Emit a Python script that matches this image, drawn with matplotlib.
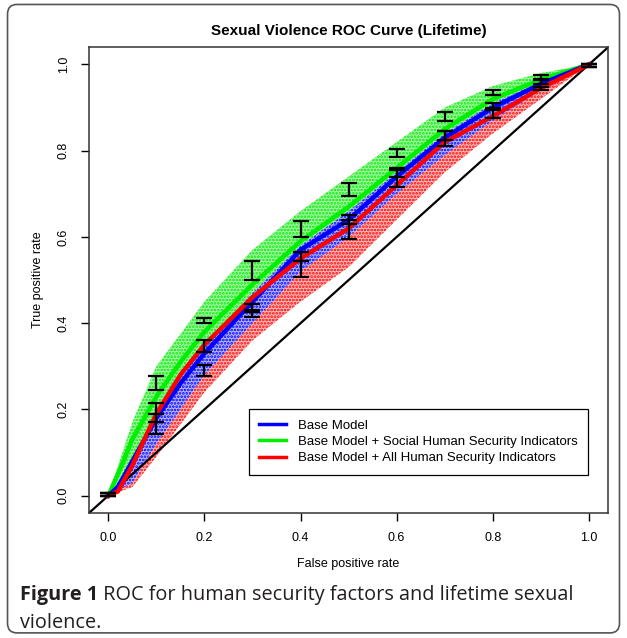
import numpy as np
import matplotlib
matplotlib.use('Agg')
from matplotlib import pyplot as plt
from matplotlib.patches import FancyBboxPatch

plt.rcParams.update({'font.family': ['Liberation Sans', 'DejaVu Sans'], 'font.size': 9,
                     'hatch.linewidth': 1.3})

# averaged ROC curves
fpr = [0.0, 0.02, 0.05, 0.1, 0.15, 0.2, 0.3, 0.4, 0.5, 0.6, 0.7, 0.8, 0.9, 1.0]
tpr_base = [0.0, 0.02, 0.08, 0.18, 0.26, 0.33, 0.45, 0.57, 0.64, 0.74, 0.83, 0.90, 0.955, 1.0]
tpr_social = [0.0, 0.05, 0.13, 0.23, 0.31, 0.38, 0.49, 0.59, 0.67, 0.76, 0.85, 0.92, 0.965, 1.0]
tpr_all = [0.0, 0.01, 0.07, 0.19, 0.28, 0.35, 0.46, 0.55, 0.62, 0.72, 0.82, 0.88, 0.945, 1.0]

# spread of the bootstrap curves (upper / lower edge of the visible dot clouds)
band_x = [0.0, 0.05, 0.1, 0.2, 0.3, 0.4, 0.5, 0.6, 0.7, 0.8, 0.9, 1.0]
social_hi = [0.0, 0.17, 0.30, 0.45, 0.57, 0.66, 0.74, 0.82, 0.90, 0.95, 0.98, 1.0]
social_lo = [0.0, 0.08, 0.19, 0.35, 0.47, 0.58, 0.66, 0.75, 0.84, 0.91, 0.96, 1.0]
base_hi = [0.0, 0.13, 0.24, 0.40, 0.52, 0.62, 0.70, 0.78, 0.86, 0.92, 0.965, 1.0]
base_lo = [0.0, 0.03, 0.12, 0.28, 0.40, 0.52, 0.60, 0.70, 0.79, 0.87, 0.94, 1.0]
all_hi = [0.0, 0.12, 0.23, 0.39, 0.50, 0.60, 0.68, 0.77, 0.85, 0.92, 0.965, 1.0]
all_lo = [0.0, 0.02, 0.09, 0.24, 0.36, 0.45, 0.53, 0.64, 0.75, 0.84, 0.92, 1.0]

# error bars (low, high) at fixed false positive rates
bar_x = [0.0, 0.1, 0.2, 0.3, 0.4, 0.5, 0.6, 0.7, 0.8, 0.9, 1.0]
social_bar = [(0.0, 0.006), (0.246, 0.278), (0.401, 0.413), (0.50, 0.545), (0.60, 0.636), (0.696, 0.724),
              (0.785, 0.805), (0.87, 0.89), (0.93, 0.94), (0.967, 0.975), (0.995, 1.0)]
base_bar = [(0.0, 0.006), (0.144, 0.216), (0.334, 0.362), (0.425, 0.445), (0.545, 0.565), (0.63, 0.65),
            (0.74, 0.76), (0.825, 0.845), (0.895, 0.91), (0.955, 0.965), (0.995, 1.0)]
all_bar = [(0.0, 0.006), (0.17, 0.19), (0.278, 0.302), (0.415, 0.43), (0.506, 0.545), (0.596, 0.64),
           (0.715, 0.755), (0.81, 0.845), (0.877, 0.90), (0.94, 0.948), (0.995, 1.0)]

labels = ['Base Model', 'Base Model + Social Human Security Indicators',
          'Base Model + All Human Security Indicators']
colors = ['#0000ff', '#00ee00', '#ff0000']
tints = ['#b4b4ff', '#aaf5aa', '#ffbcbc']

fig = plt.figure(figsize=(6.27, 6.38), dpi=100)
fig.patches.append(FancyBboxPatch((0.012, 0.008), 0.976, 0.985, boxstyle='round,pad=0,rounding_size=0.015',
                                  transform=fig.transFigure, facecolor='none', edgecolor='#555555',
                                  linewidth=1.2))
ax = fig.add_axes([0.142, 0.196, 0.828, 0.730])

# dot clouds: all first, then base, social on top
for hi, lo, c, t in [(all_hi, all_lo, colors[2], tints[2]), (base_hi, base_lo, colors[0], tints[0]),
                     (social_hi, social_lo, colors[1], tints[1])]:
    ax.fill_between(band_x, lo, hi, facecolor=t, linewidth=0)
    ax.fill_between(band_x, lo, hi, facecolor='none', edgecolor=c, hatch='.....', linewidth=0)

ax.axline((0, 0), (1, 1), color='black', lw=1.6)

ax.plot(fpr, tpr_social, color=colors[1], lw=3.2)
ax.plot(fpr, tpr_base, color=colors[0], lw=3.2)
ax.plot(fpr, tpr_all, color=colors[2], lw=3.2)

for bars in [base_bar, social_bar, all_bar]:
    lo = np.array([b[0] for b in bars])
    hi = np.array([b[1] for b in bars])
    ax.errorbar(bar_x, (lo + hi) / 2, yerr=(hi - lo) / 2, fmt='none', ecolor='black',
                elinewidth=1.6, capsize=6, capthick=1.6)

# legend
for lab, c in zip(labels, colors):
    ax.plot([], [], color=c, lw=2.5, label=lab)
leg = ax.legend(loc='lower right', bbox_to_anchor=(0.961, 0.082), borderaxespad=0, fancybox=False,
                edgecolor='black', framealpha=1, fontsize=9.5, handlelength=2.0, labelspacing=0.3,
                borderpad=0.8, handletextpad=0.9)
leg.get_frame().set_linewidth(0.9)

ax.set_xlim(-0.04, 1.04)
ax.set_ylim(-0.04, 1.04)
ticks = [0.0, 0.2, 0.4, 0.6, 0.8, 1.0]
ax.set_xticks(ticks)
ax.set_yticks(ticks)
ax.set_xticklabels(['%.1f' % t for t in ticks])
ax.set_yticklabels(['%.1f' % t for t in ticks], rotation=90, va='center')
ax.tick_params(direction='out', length=6, width=1, pad=8)
for s in ax.spines.values():
    s.set_linewidth(1.1)
    s.set_color('#333333')

ax.set_title('Sexual Violence ROC Curve (Lifetime)', fontweight='bold', fontsize=11, pad=9)
ax.set_xlabel('False positive rate', labelpad=10)
ax.set_ylabel('True positive rate', labelpad=10)

# caption
cap_font = ['Open Sans', 'DejaVu Sans']
t1 = fig.text(0.032, 0.06, 'Figure 1', fontweight='bold', fontsize=14.3, family=cap_font, color='#231f20')
fig.canvas.draw()
bb = t1.get_window_extent(fig.canvas.get_renderer())
x2 = bb.x1 / fig.bbox.width
fig.text(x2, 0.06, ' ROC for human security factors and lifetime sexual', fontsize=14.3, family=cap_font,
         color='#231f20')
fig.text(0.032, 0.016, 'violence.', fontsize=14.3, family=cap_font, color='#231f20')

fig.savefig('out.png', dpi=100)
